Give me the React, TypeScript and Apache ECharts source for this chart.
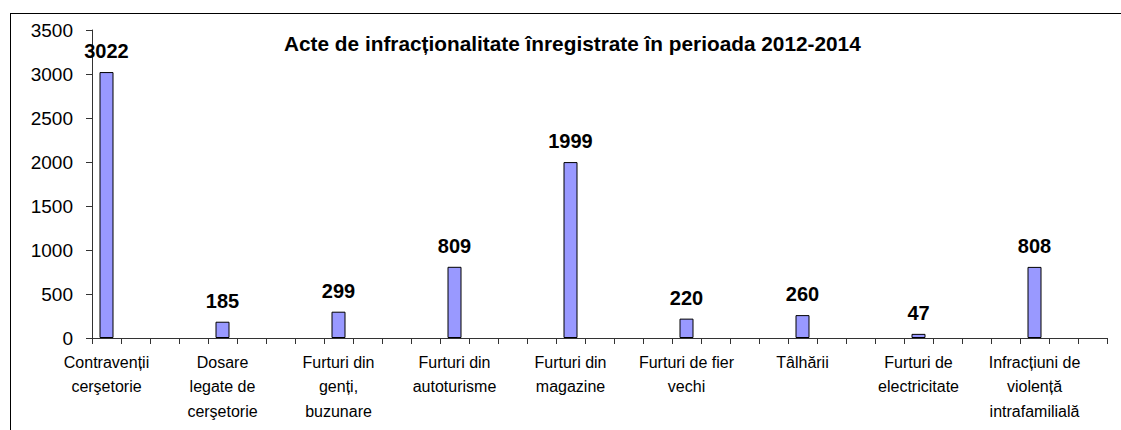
import React, { useEffect, useRef } from "react";
import * as echarts from "echarts";

const categories: string[] = [
  "Contravenții\ncerşetorie",
  "Dosare\nlegate de\ncerşetorie",
  "Furturi din\ngenți,\nbuzunare",
  "Furturi din\nautoturisme",
  "Furturi din\nmagazine",
  "Furturi de fier\nvechi",
  "Tâlhării",
  "Furturi de\nelectricitate",
  "Infracțiuni de\nviolență\nintrafamilială",
];
const values: number[] = [3022, 185, 299, 809, 1999, 220, 260, 47, 808];
const yTicks = { min: 0, max: 3500, interval: 500 };
const titleText = "Acte de infracționalitate înregistrate în perioada 2012-2014";

// layout of the category axis: each category occupies one slot out of every 4
const SLOT_STEP = 4;
const TOTAL_SLOTS = 35;

export default function App() {
  const ref = useRef<HTMLDivElement>(null);
  useEffect(() => {
    if (!ref.current) return;
    const chart = echarts.init(ref.current, undefined, { renderer: "svg" });
    const axisData: string[] = [];
    const seriesData: (number | null)[] = [];
    for (let i = 0; i < TOTAL_SLOTS; i++) {
      if (i % SLOT_STEP === 0 && i / SLOT_STEP < categories.length) {
        axisData.push(categories[i / SLOT_STEP]);
        seriesData.push(values[i / SLOT_STEP]);
      } else {
        axisData.push("");
        seriesData.push(null);
      }
    }
    const font = "Liberation Sans, Arial, sans-serif";
    chart.setOption({
      animation: false,
      backgroundColor: "#ffffff",
      textStyle: { fontFamily: font },
      title: {
        text: titleText,
        left: 279,
        top: 28,
        textStyle: { fontFamily: font, fontSize: 20.8, fontWeight: "bold", color: "#000" },
      },
      graphic: [
        { type: "line", shape: { x1: 10, y1: 13.5, x2: 1121, y2: 13.5 }, style: { stroke: "#000", lineWidth: 1 } },
        { type: "line", shape: { x1: 10.5, y1: 13, x2: 10.5, y2: 430 }, style: { stroke: "#000", lineWidth: 1 } },
      ],
      grid: { left: 92, right: 14, top: 30, bottom: 92, containLabel: false },
      xAxis: {
        type: "category",
        data: axisData,
        boundaryGap: true,
        axisLine: { show: true, lineStyle: { color: "#333", width: 1 } },
        axisTick: { show: true, interval: 0, length: 6, lineStyle: { color: "#333" } },
        axisLabel: {
          interval: 0,
          fontSize: 16,
          lineHeight: 24.5,
          color: "#000",
          margin: 12,
          fontFamily: font,
        },
        splitLine: { show: false },
      },
      yAxis: {
        type: "value",
        min: yTicks.min,
        max: yTicks.max,
        interval: yTicks.interval,
        axisLine: { show: true, lineStyle: { color: "#333", width: 1 } },
        axisTick: { show: true, length: 6, lineStyle: { color: "#333" } },
        axisLabel: {
          fontSize: 19,
          color: "#000",
          margin: 19,
          fontFamily: font,
          formatter: (v: number) => String(v),
        },
        splitLine: { show: false },
      },
      series: [
        {
          type: "bar",
          data: seriesData,
          barWidth: 14,
          itemStyle: { color: "#9999FF", borderColor: "#000", borderWidth: 1 },
          label: {
            show: true,
            position: "top",
            distance: 11,
            fontSize: 20,
            fontWeight: "bold",
            color: "#000",
            fontFamily: font,
          },
        },
      ],
    });
    return () => chart.dispose();
  }, []);
  return (
    <div
      ref={ref}
      style={{ position: "absolute", left: 0, top: 0, width: 1121, height: 430 }}
    />
  );
}
